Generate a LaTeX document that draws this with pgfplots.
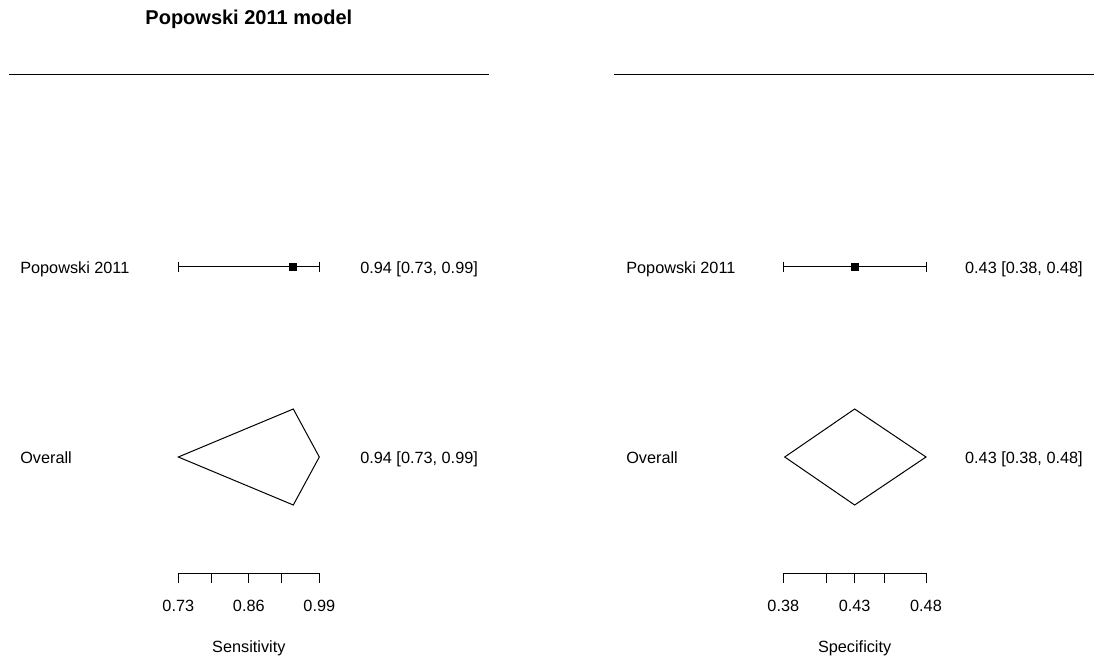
\documentclass[border=0pt]{standalone}
\usepackage{pgfplots}
\pgfplotsset{compat=1.18}
\usepackage{fontspec}
\setmainfont{Liberation Sans}
\pgfplotsset{
  panel/.style={scale only axis, width=360pt, height=494.25pt, ymin=0, ymax=659,
    hide axis, clip=false, anchor=south west},
  every axis plot/.append style={line width=0.75pt},
}
\newcommand{\txt}{\fontsize{12.2}{14.4}\selectfont}
\begin{document}
\begin{tikzpicture}
\path (0,0) rectangle (824.25pt,494.25pt);
% ---------- left panel: sensitivity ----------
\begin{axis}[panel, at={(6.75pt,0pt)}, xmin=0.4178, xmax=1.3029]
\addplot[black, line width=0.75pt] coordinates {(0.4178,584)(1.3029,584)};
% study row
\addplot[black] coordinates {(0.73,392)(0.99,392)};
\addplot[black, only marks, mark=|, mark size=4.1pt] coordinates {(0.73,392)(0.99,392)};
\addplot[black, only marks, mark=square*, mark size=2.7pt] coordinates {(0.942,392)};
% overall diamond
\addplot[black] coordinates {(0.73,202)(0.942,250)(0.99,202)(0.942,154)} -- cycle;
% x scale
\addplot[black] coordinates {(0.73,86)(0.99,86)};
\addplot[black, unbounded coords=jump] coordinates {
 (0.73,86)(0.73,76)(0.73,nan)
 (0.7915,86)(0.7915,76)(0.7915,nan)
 (0.86,86)(0.86,76)(0.86,nan)
 (0.9206,86)(0.9206,76)(0.9206,nan)
 (0.99,86)(0.99,76)};
\node[anchor=base, font=\txt] at (axis cs:0.73,48) {0.73};
\node[anchor=base, font=\txt] at (axis cs:0.86,48) {0.86};
\node[anchor=base, font=\txt] at (axis cs:0.99,48) {0.99};
\node[anchor=base, font=\txt] at (axis cs:0.86,7) {Sensitivity};
% labels
\node[anchor=base west, font=\txt, inner sep=0pt] at (axis cs:0.4381,386) {Popowski 2011};
\node[anchor=base west, font=\txt, inner sep=0pt] at (axis cs:0.4381,196) {Overall};
\node[anchor=base east, font=\txt, inner sep=0pt] at (axis cs:1.2829,386) {0.94 [0.73, 0.99]};
\node[anchor=base east, font=\txt, inner sep=0pt] at (axis cs:1.2829,196) {0.94 [0.73, 0.99]};
% title
\node[anchor=base, font=\fontsize{15}{18}\selectfont\bfseries] at (axis cs:0.86,634) {Popowski 2011 model};
\end{axis}
% ---------- right panel: specificity ----------
\begin{axis}[panel, at={(460.5pt,0pt)}, xmin=0.26136, xmax=0.59773]
\addplot[black] coordinates {(0.26136,584)(0.59773,584)};
\addplot[black] coordinates {(0.38,392)(0.48,392)};
\addplot[black, only marks, mark=|, mark size=4.1pt] coordinates {(0.38,392)(0.48,392)};
\addplot[black, only marks, mark=square*, mark size=2.7pt] coordinates {(0.43,392)};
\addplot[black] coordinates {(0.381,202)(0.43,250)(0.48,202)(0.43,154)} -- cycle;
\addplot[black] coordinates {(0.38,86)(0.48,86)};
\addplot[black, unbounded coords=jump] coordinates {
 (0.38,86)(0.38,76)(0.38,nan)
 (0.4104,86)(0.4104,76)(0.4104,nan)
 (0.43,86)(0.43,76)(0.43,nan)
 (0.4506,86)(0.4506,76)(0.4506,nan)
 (0.48,86)(0.48,76)};
\node[anchor=base, font=\txt] at (axis cs:0.38,48) {0.38};
\node[anchor=base, font=\txt] at (axis cs:0.43,48) {0.43};
\node[anchor=base, font=\txt] at (axis cs:0.48,48) {0.48};
\node[anchor=base, font=\txt] at (axis cs:0.43,7) {Specificity};
\node[anchor=base west, font=\txt, inner sep=0pt] at (axis cs:0.2698,386) {Popowski 2011};
\node[anchor=base west, font=\txt, inner sep=0pt] at (axis cs:0.2698,196) {Overall};
\node[anchor=base east, font=\txt, inner sep=0pt] at (axis cs:0.5900,386) {0.43 [0.38, 0.48]};
\node[anchor=base east, font=\txt, inner sep=0pt] at (axis cs:0.5900,196) {0.43 [0.38, 0.48]};
\end{axis}
\end{tikzpicture}
\end{document}
